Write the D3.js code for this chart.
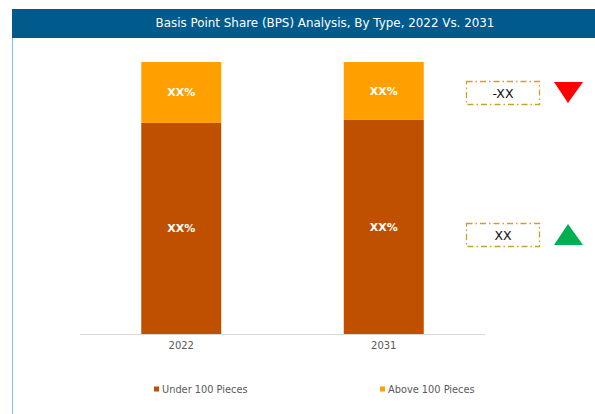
<!DOCTYPE html>
<html><head><meta charset="utf-8">
<script src="https://cdn.jsdelivr.net/npm/d3@7"></script>
<style>body{margin:0;background:#fff;}svg{display:block;font-family:"DejaVu Sans",sans-serif;}</style>
</head><body><svg id="c" width="595" height="414"></svg>
<script>
const categories = ["2022", "2031"];
const seriesNames = ["Under 100 Pieces", "Above 100 Pieces"];
const under = [77.6, 78.7];
const above = [22.4, 21.3];
const barLabels = ["XX%", "XX%"];
const changeLabels = ["-XX", "XX"];
const colors = ["#bf5000", "#ffa000"];

const svg = d3.select("#c");
// header
svg.append("rect").attr("x", 12).attr("y", 9).attr("width", 583).attr("height", 29).attr("fill", "#005b8c");
svg.append("text").attr("x", 325).attr("y", 26.5).attr("text-anchor", "middle").attr("fill", "#fff").attr("font-size", 11.9).text("Basis Point Share (BPS) Analysis, By Type, 2022 Vs. 2031");
svg.append("line").attr("x1", 12.5).attr("x2", 12.5).attr("y1", 38).attr("y2", 414).attr("stroke", "#86c2e8").attr("stroke-width", 1);

const x = d3.scaleBand().domain(categories).range([80, 485]).paddingInner(0.605).paddingOuter(0.3025);
const y = d3.scaleLinear().domain([0, 100]).range([334, 62]);

const data = categories.map((c, i) => ({cat: c, "Under 100 Pieces": under[i], "Above 100 Pieces": above[i]}));
const stacked = d3.stack().keys(seriesNames)(data);

svg.append("line").attr("x1", 80).attr("x2", 485).attr("y1", 334.5).attr("y2", 334.5).attr("stroke", "#d9d9d9");

stacked.forEach((s, si) => {
  svg.append("g").selectAll("rect").data(s).join("rect")
    .attr("x", d => x(d.data.cat)).attr("width", x.bandwidth())
    .attr("y", d => y(d[1])).attr("height", d => y(d[0]) - y(d[1]))
    .attr("fill", colors[si]);
  svg.append("g").selectAll("text").data(s).join("text")
    .attr("x", d => x(d.data.cat) + x.bandwidth() / 2)
    .attr("y", d => (y(d[0]) + y(d[1])) / 2 + 4)
    .attr("text-anchor", "middle").attr("fill", "#fff").attr("font-weight", "bold").attr("font-size", 11)
    .text((d, i) => barLabels[i]);
});

const ax = svg.append("g").attr("transform", "translate(0,334)").call(d3.axisBottom(x).tickSize(0).tickPadding(8));
ax.select(".domain").remove();
ax.selectAll("text").attr("font-size", 10).attr("fill", "#595959").attr("font-family", "DejaVu Sans, sans-serif");

// legend
const legX = [154, 380];
seriesNames.forEach((n, i) => {
  svg.append("rect").attr("x", legX[i]).attr("y", 386.5).attr("width", 5).attr("height", 5).attr("fill", colors[i]);
  svg.append("text").attr("x", legX[i] + 8).attr("y", 393).attr("font-size", 9.8).attr("fill", "#595959").text(n);
});

// change boxes
const boxY = [81, 223];
const triColors = ["#ff0000", "#00b050"];
changeLabels.forEach((t, i) => {
  svg.append("rect").attr("x", 466.5).attr("y", boxY[i] + 0.5).attr("width", 73).attr("height", 23)
    .attr("fill", "none").attr("stroke", "#c9a227").attr("stroke-width", 1.3).attr("stroke-dasharray", "6,3,1.5,3");
  svg.append("text").attr("x", 503).attr("y", boxY[i] + 17).attr("text-anchor", "middle").attr("font-size", 12.5).attr("fill", "#111").text(t);
  const cx = 568, top = boxY[i] + 1, bot = boxY[i] + 22;
  const pts = i === 0 ? [[554, top], [583, top], [cx, bot]] : [[554, bot], [583, bot], [cx, top]];
  svg.append("path").attr("d", d3.line()(pts) + "Z").attr("fill", triColors[i]);
});
</script></body></html>
